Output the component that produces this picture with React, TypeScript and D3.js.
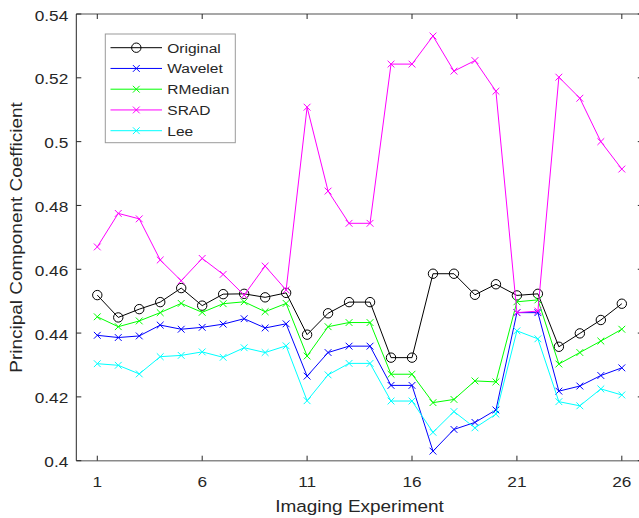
import React from "react";
import * as d3 from "d3";

const experiments = d3.range(1, 27);
const original = [0.4519, 0.4449, 0.4475, 0.4497, 0.4541, 0.4486, 0.4522, 0.4523, 0.4512, 0.4526, 0.4395, 0.4462, 0.4497, 0.4497, 0.4323, 0.4323, 0.4586, 0.4586, 0.452, 0.4553, 0.4518, 0.4523, 0.4357, 0.4399, 0.4441, 0.4492];
const wavelet = [0.4393, 0.4386, 0.4391, 0.4425, 0.4412, 0.4418, 0.4428, 0.4445, 0.4416, 0.4429, 0.4265, 0.4339, 0.4359, 0.4359, 0.4236, 0.4236, 0.403, 0.4098, 0.412, 0.4159, 0.4464, 0.4464, 0.4218, 0.4234, 0.4267, 0.4291];
const rmedian = [0.4451, 0.442, 0.4438, 0.4464, 0.4493, 0.4465, 0.4492, 0.4498, 0.4467, 0.4493, 0.4328, 0.442, 0.4433, 0.4433, 0.4271, 0.4271, 0.4182, 0.4192, 0.425, 0.4247, 0.4498, 0.4504, 0.4303, 0.4339, 0.4375, 0.4412];
const srad = [0.467, 0.4775, 0.4758, 0.4629, 0.4564, 0.4634, 0.4584, 0.4519, 0.461, 0.4535, 0.5108, 0.4845, 0.4744, 0.4744, 0.5243, 0.5243, 0.5331, 0.5221, 0.5254, 0.5158, 0.4464, 0.4469, 0.5202, 0.5136, 0.5, 0.4914];
const lee = [0.4304, 0.4299, 0.4272, 0.4326, 0.433, 0.4341, 0.4324, 0.4354, 0.4339, 0.436, 0.4188, 0.4269, 0.4305, 0.4305, 0.4187, 0.4187, 0.4089, 0.4154, 0.4103, 0.4146, 0.4407, 0.4382, 0.4185, 0.4172, 0.4225, 0.4206];

const xTicks = [1, 6, 11, 16, 21, 26];
const yTicks = [0.4, 0.42, 0.44, 0.46, 0.48, 0.5, 0.52, 0.54];

const seriesNames = ["Original", "Wavelet", "RMedian", "SRAD", "Lee"];
const seriesValues = [original, wavelet, rmedian, srad, lee];
const seriesColors = ["#000000", "#0000ff", "#00ff00", "#ff00ff", "#00ffff"];
const seriesMarkers = ["circle", "x", "x", "x", "x"];

const W = 639;
const H = 518;
const L = 76.3, R = 642.8, TOP = 14, B = 460.7;
const FONT = "'Liberation Sans', Arial, Helvetica, sans-serif";
const TXT = "#262626";
const SX = 1.15;

function T({ x, y, r = 0, anchor = "start", size, children }: any) {
  return (
    <g transform={`translate(${x},${y}) rotate(${r}) scale(${SX},1)`}>
      <text textAnchor={anchor} fontSize={size} fontFamily={FONT} fill={TXT}>
        {children}
      </text>
    </g>
  );
}

function Marker({ kind, x, y, color }: any) {
  if (kind === "circle") {
    return <circle cx={x} cy={y} r={4.7} fill="none" stroke={color} strokeWidth={1} />;
  }
  const s = 3.4;
  return (
    <path d={`M${x - s},${y - s}L${x + s},${y + s}M${x - s},${y + s}L${x + s},${y - s}`} stroke={color} strokeWidth={1} />
  );
}

export default function App() {
  const x = d3.scaleLinear().domain([0, 27]).range([L, R]);
  const y = d3.scaleLinear().domain([0.4, 0.54]).range([B, TOP]);
  const line = d3.line<number>().x((_, i) => x(experiments[i])).y((d) => y(d));

  const legX = 105.3, legY = 34, legW = 130, legH = 108.7;
  const rowH = 20.75;

  return (
    <svg width={W} height={H} style={{ position: "absolute", left: 0, top: 0, background: "#fff" }}>
      <rect x={0} y={0} width={W} height={H} fill="#fff" />
      {/* series */}
      {seriesValues.map((vals, si) => (
        <g key={si}>
          <path d={line(vals) || ""} fill="none" stroke={seriesColors[si]} strokeWidth={1} />
          {vals.map((v, i) => (
            <Marker key={i} kind={seriesMarkers[si]} x={x(experiments[i])} y={y(v)} color={seriesColors[si]} />
          ))}
        </g>
      ))}
      {/* axes box */}
      <line x1={L} x2={R} y1={B} y2={B} stroke="#8a8a8a" strokeWidth={1.5} />
      <line x1={L} x2={R} y1={TOP} y2={TOP} stroke="#8a8a8a" strokeWidth={1.5} />
      <line x1={L} x2={L} y1={TOP} y2={B} stroke={TXT} strokeWidth={1} />
      <line x1={R} x2={R} y1={TOP} y2={B} stroke={TXT} strokeWidth={1} />
      {xTicks.map((t) => (
        <g key={"xt" + t}>
          <line x1={x(t)} x2={x(t)} y1={B} y2={B - 5} stroke={TXT} strokeWidth={1} />
          <line x1={x(t)} x2={x(t)} y1={TOP} y2={TOP + 5} stroke={TXT} strokeWidth={1} />
          <T x={x(t)} y={486.7} anchor="middle" size={15}>{String(t)}</T>
        </g>
      ))}
      {yTicks.map((t) => (
        <g key={"yt" + t}>
          <line x1={L} x2={L + 5} y1={y(t)} y2={y(t)} stroke={TXT} strokeWidth={1} />
          <line x1={R} x2={R - 5} y1={y(t)} y2={y(t)} stroke={TXT} strokeWidth={1} />
          <T x={68.3} y={y(t) + 6.5} anchor="end" size={15}>{String(t)}</T>
        </g>
      ))}
      <T x={359.5} y={511.7} anchor="middle" size={16.5}>Imaging Experiment</T>
      <T x={21.7} y={237.5} r={-90} anchor="middle" size={16.5}>Principal Component Coefficient</T>
      {/* legend */}
      <rect x={legX} y={legY} width={legW} height={legH} fill="#fff" stroke="#9a9a9a" strokeWidth={1} />
      {seriesNames.map((n, i) => {
        const cy = 47.7 + i * rowH;
        return (
          <g key={n}>
            <line x1={110.5} x2={162} y1={cy} y2={cy} stroke={seriesColors[i]} strokeWidth={1} />
            <Marker kind={seriesMarkers[i]} x={136.3} y={cy} color={seriesColors[i]} />
            <T x={167.3} y={cy + 5} size={13.5}>{n}</T>
          </g>
        );
      })}
    </svg>
  );
}
